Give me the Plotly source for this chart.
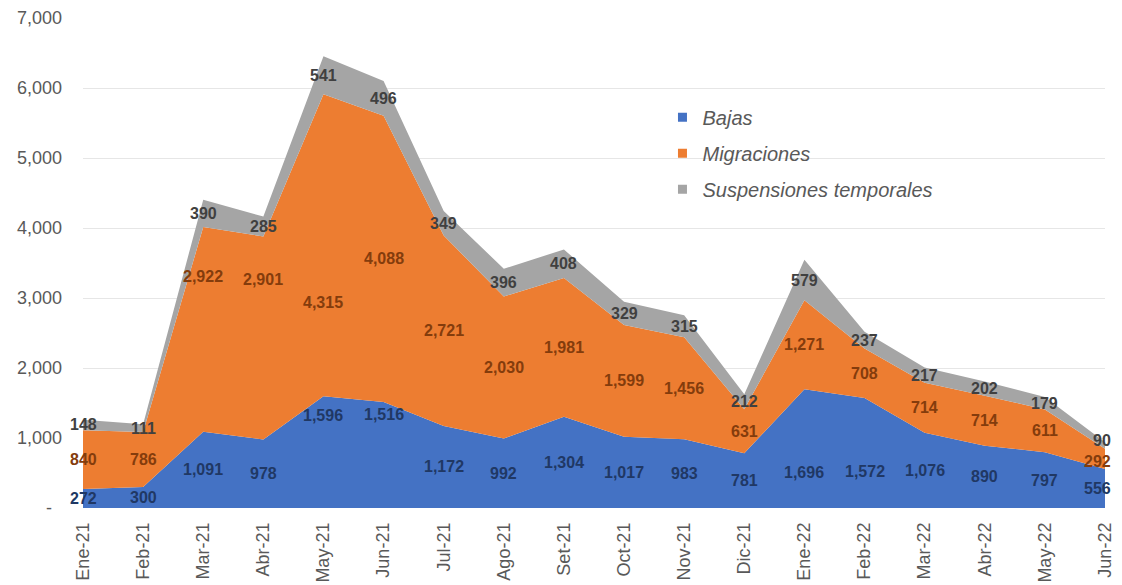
import plotly.graph_objects as go

months = ["Ene-21", "Feb-21", "Mar-21", "Abr-21", "May-21", "Jun-21", "Jul-21", "Ago-21",
          "Set-21", "Oct-21", "Nov-21", "Dic-21", "Ene-22", "Feb-22", "Mar-22", "Abr-22",
          "May-22", "Jun-22"]
bajas = [272, 300, 1091, 978, 1596, 1516, 1172, 992, 1304, 1017, 983, 781, 1696, 1572, 1076, 890, 797, 556]
migraciones = [840, 786, 2922, 2901, 4315, 4088, 2721, 2030, 1981, 1599, 1456, 631, 1271, 708, 714, 714, 611, 292]
suspensiones = [148, 111, 390, 285, 541, 496, 349, 396, 408, 329, 315, 212, 579, 237, 217, 202, 179, 90]

series = [
    ("Bajas", bajas, "#4472C4", "#203864"),
    ("Migraciones", migraciones, "#ED7D31", "#843C0C"),
    ("Suspensiones temporales", suspensiones, "#A5A5A5", "#404040"),
]

# label placement within each band (fraction of band height); default centered
label_frac = {
    ("Bajas", 4): 0.83, ("Bajas", 5): 0.88, ("Bajas", 12): 0.3, ("Bajas", 13): 0.33,
    ("Migraciones", 2): 0.76, ("Migraciones", 3): 0.79, ("Migraciones", 4): 0.31,
}
# small pixel nudges for crowded labels at the right edge
label_yshift = {("Suspensiones temporales", 17): 5, ("Migraciones", 17): -3}

FONT = "Liberation Sans, Arial, sans-serif"
x = list(range(len(months)))
last = len(months) - 1
fig = go.Figure()
annotations = []
base = [0] * len(months)
for name, vals, color, lcolor in series:
    fig.add_trace(go.Scatter(
        x=x, y=vals, stackgroup="one", mode="none", fillcolor=color,
        name=name, showlegend=False, hoverinfo="skip"))
    for i, v in enumerate(vals):
        f = label_frac.get((name, i), 0.5)
        edge = i == last
        annotations.append(dict(
            x=i, y=base[i] + v * f, xref="x", yref="y", text=f"<b>{v:,}</b>",
            showarrow=False, font=dict(family=FONT, size=16, color=lcolor),
            xanchor="right" if edge else "center", xshift=8 if edge else 0,
            yshift=label_yshift.get((name, i), 0), yanchor="middle"))
    base = [b + v for b, v in zip(base, vals)]

for k, (name, vals, color, lcolor) in enumerate(series):
    fig.add_trace(go.Scatter(
        x=[None], y=[None], mode="markers", name=name,
        marker=dict(symbol="square", size=9, color=color),
        legendgroup=f"g{k}", showlegend=True))

yticks = [0, 1000, 2000, 3000, 4000, 5000, 6000, 7000]
ytext = ["-\u00a0\u00a0"] + [f"{v:,}" for v in yticks[1:]]

fig.update_layout(
    width=1114, height=577,
    margin=dict(l=75, r=17, t=10, b=77),
    paper_bgcolor="white", plot_bgcolor="white",
    font=dict(family=FONT, color="#595959", size=16),
    annotations=annotations,
    showlegend=True,
    legend=dict(x=0.567, y=0.837, xanchor="left", yanchor="top",
                font=dict(size=20, color="#595959", style="italic"),
                tracegroupgap=7, itemwidth=30, bgcolor="rgba(0,0,0,0)"),
    xaxis=dict(range=[0, 17], tickmode="array", tickvals=x, ticktext=months,
               tickangle=-90, showgrid=False, zeroline=False, showline=False,
               ticklabelstandoff=10, automargin=False,
               tickfont=dict(size=18, color="#595959")),
    yaxis=dict(range=[0, 7000], tickmode="array", tickvals=yticks, ticktext=ytext,
               showgrid=True, gridcolor="#E6E6E6", zeroline=False, showline=False,
               ticklabelstandoff=20, automargin=False,
               tickfont=dict(size=18, color="#595959")),
)

fig.write_html("out.html")
